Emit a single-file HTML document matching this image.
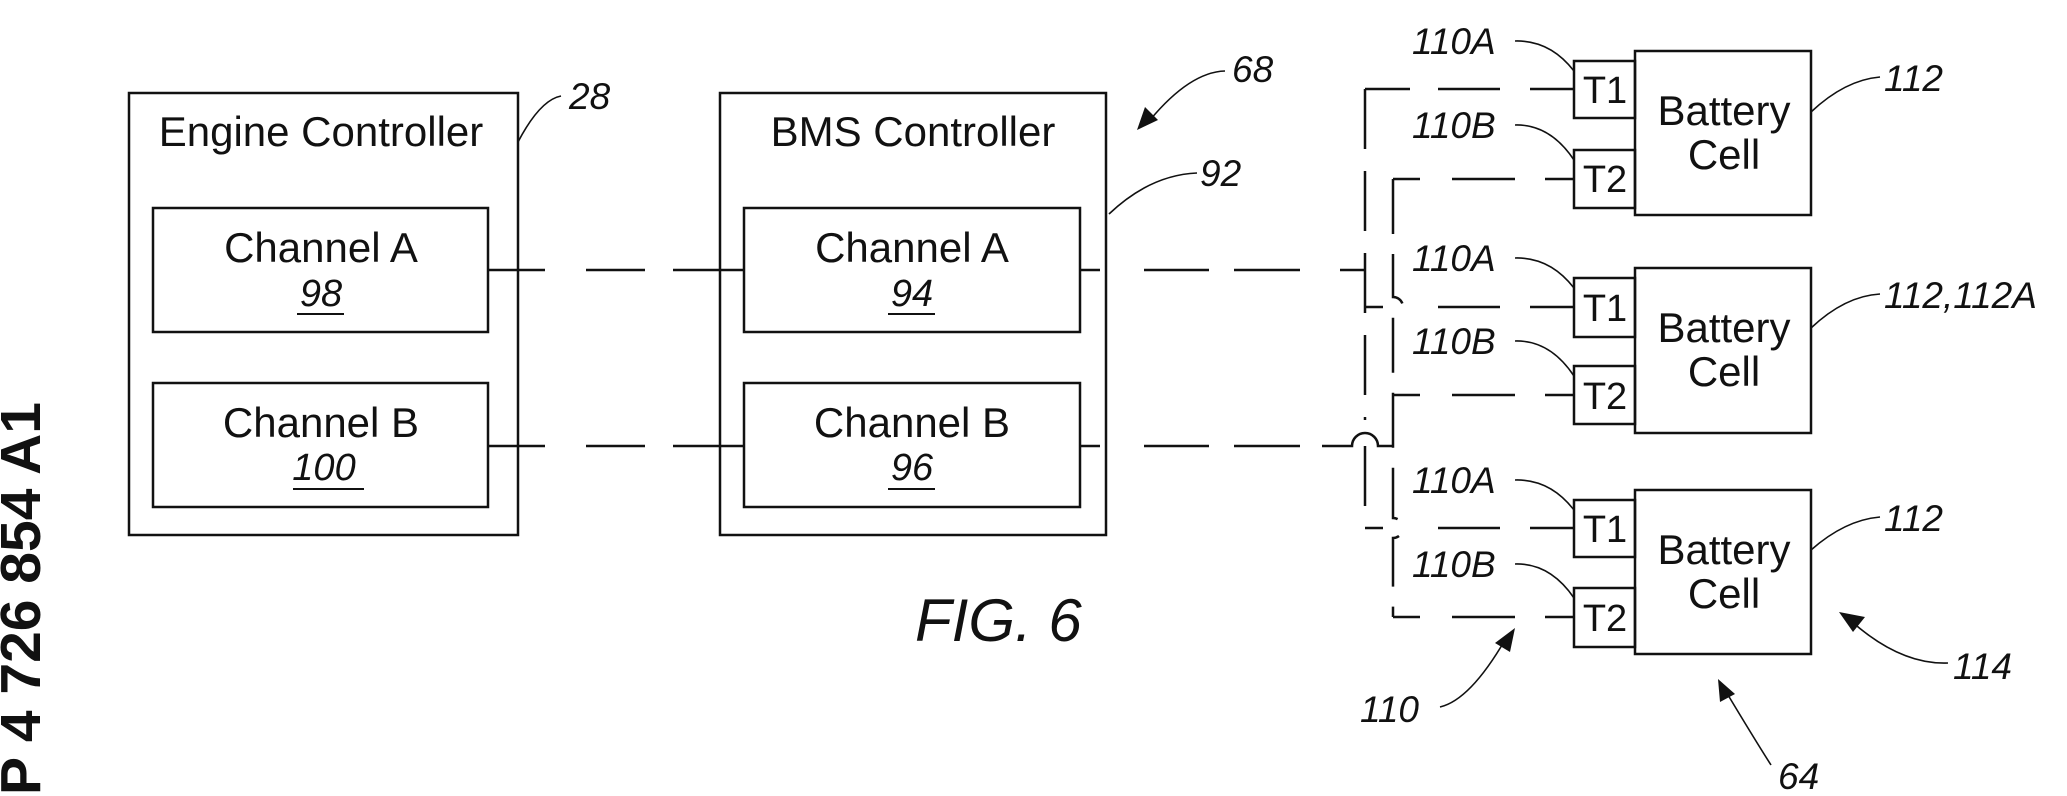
<!DOCTYPE html>
<html><head><meta charset="utf-8"><style>
html,body{margin:0;padding:0;background:#fff;width:2067px;height:796px;overflow:hidden;}
svg{display:block;overflow:hidden;}
text{font-family:"Liberation Sans",sans-serif;fill:#111;}
.it{font-style:italic;}
</style></head><body>
<svg width="2067" height="796" viewBox="0 0 2067 796" xmlns="http://www.w3.org/2000/svg">
<g fill="none" stroke="#111" stroke-width="2.5">
<rect x="129" y="93" width="389" height="442"/>
<rect x="153" y="208" width="335" height="124"/>
<rect x="153" y="383" width="335" height="124"/>
<rect x="720" y="93" width="386" height="442"/>
<rect x="744" y="208" width="336" height="124"/>
<rect x="744" y="383" width="336" height="124"/>
<path d="M488 270 H545 M586 270 H645 M673 270 H744"/>
<path d="M488 446 H545 M586 446 H645 M673 446 H744"/>
<path d="M1080 270 H1100 M1144 270 H1209 M1234 270 H1300 M1340 270 H1365"/>
<path d="M1080 446 H1100 M1144 446 H1209 M1234 446 H1300 M1322 446 H1352 A13 13 0 0 1 1378 446 H1393"/>
<path d="M1365 89 V420 M1365 446 V528" stroke-dasharray="60 22"/>
<path d="M1393 179 V297 A10 10 0 0 1 1393 317 V518 A10 10 0 0 1 1393 538 V617" stroke-dasharray="55 20"/>
<path d="M1365 89 H1410 M1438 89 H1500 M1530 89 H1574"/>
<path d="M1393 179 H1420 M1452 179 H1515 M1545 179 H1574"/>
<path d="M1365 307 H1383 M1438 307 H1500 M1530 307 H1574"/>
<path d="M1393 395 H1420 M1452 395 H1515 M1545 395 H1574"/>
<path d="M1365 528 H1383 M1438 528 H1500 M1530 528 H1574"/>
<path d="M1393 617 H1420 M1452 617 H1515 M1545 617 H1574"/>
<rect x="1574" y="61" width="61" height="57"/><rect x="1574" y="150" width="61" height="58"/><rect x="1635" y="51" width="176" height="164"/>
<rect x="1574" y="278" width="61" height="59"/><rect x="1574" y="366" width="61" height="58"/><rect x="1635" y="268" width="176" height="165"/>
<rect x="1574" y="500" width="61" height="57"/><rect x="1574" y="588" width="61" height="59"/><rect x="1635" y="490" width="176" height="164"/>
<g stroke-width="1.6">
<path d="M518 142 Q540 100 561 96"/>
<path d="M1109 214 Q1150 175 1197 173"/>
<path d="M1515 41 Q1550 40 1574 71"/><path d="M1515 125 Q1550 124 1574 160"/>
<path d="M1515 258 Q1550 257 1574 288"/><path d="M1515 341 Q1550 340 1574 376"/>
<path d="M1515 480 Q1550 479 1574 510"/><path d="M1515 564 Q1550 563 1574 598"/>
<path d="M1811 112 Q1845 80 1880 77"/><path d="M1811 328 Q1845 296 1880 294"/><path d="M1811 550 Q1845 520 1880 517"/>
<path d="M1225 71 Q1190 72 1150 120"/>
<path d="M1440 707 Q1470 700 1505 640"/>
<path d="M1948 663 Q1900 665 1850 620"/>
<path d="M1771 765 Q1755 740 1725 690"/>
</g>
</g>
<g fill="#111">
<polygon points="1137,130 1145,107 1158,120"/>
<polygon points="1515,628 1495,643 1510,652"/>
<polygon points="1839,612 1865,617 1853,632"/>
<polygon points="1718,679 1720,702 1735,694"/>
</g>
<g font-size="42" text-anchor="middle">
<text x="321" y="146">Engine Controller</text>
<text x="913" y="146">BMS Controller</text>
<text x="321" y="262">Channel A</text>
<text x="321" y="437">Channel B</text>
<text x="912" y="262">Channel A</text>
<text x="912" y="437">Channel B</text>
<text x="1724" y="125">Battery</text><text x="1724" y="169">Cell</text>
<text x="1724" y="342">Battery</text><text x="1724" y="386">Cell</text>
<text x="1724" y="564">Battery</text><text x="1724" y="608">Cell</text>
</g>
<g font-size="38" text-anchor="middle">
<text x="1605" y="103">T1</text><text x="1605" y="192">T2</text>
<text x="1605" y="321">T1</text><text x="1605" y="409">T2</text>
<text x="1605" y="542">T1</text><text x="1605" y="631">T2</text>
</g>
<g font-size="38" text-anchor="middle">
<text class="it" x="321" y="306">98</text><text class="it" x="324" y="480">100</text>
<text class="it" x="912" y="306">94</text><text class="it" x="912" y="480">96</text>
</g>
<g stroke="#111" stroke-width="2"><path d="M297 314 H344 M293 489 H364 M888 314 H935 M888 489 H935"/></g>
<g font-size="37" font-style="italic">
<text x="569" y="109">28</text>
<text x="1232" y="82">68</text>
<text x="1200" y="186">92</text>
<text x="1412" y="54">110A</text><text x="1412" y="138">110B</text>
<text x="1412" y="271">110A</text><text x="1412" y="354">110B</text>
<text x="1412" y="493">110A</text><text x="1412" y="577">110B</text>
<text x="1884" y="91">112</text><text x="1884" y="308">112,112A</text><text x="1884" y="531">112</text>
<text x="1360" y="722">110</text>
<text x="1953" y="679">114</text>
<text x="1778" y="789">64</text>
</g>
<text x="915" y="641" font-size="60" font-style="italic">FIG. 6</text>
<text transform="translate(40,795) rotate(-90)" font-size="57" font-weight="bold">P 4 726 854 A1</text>
</svg>
</body></html>
